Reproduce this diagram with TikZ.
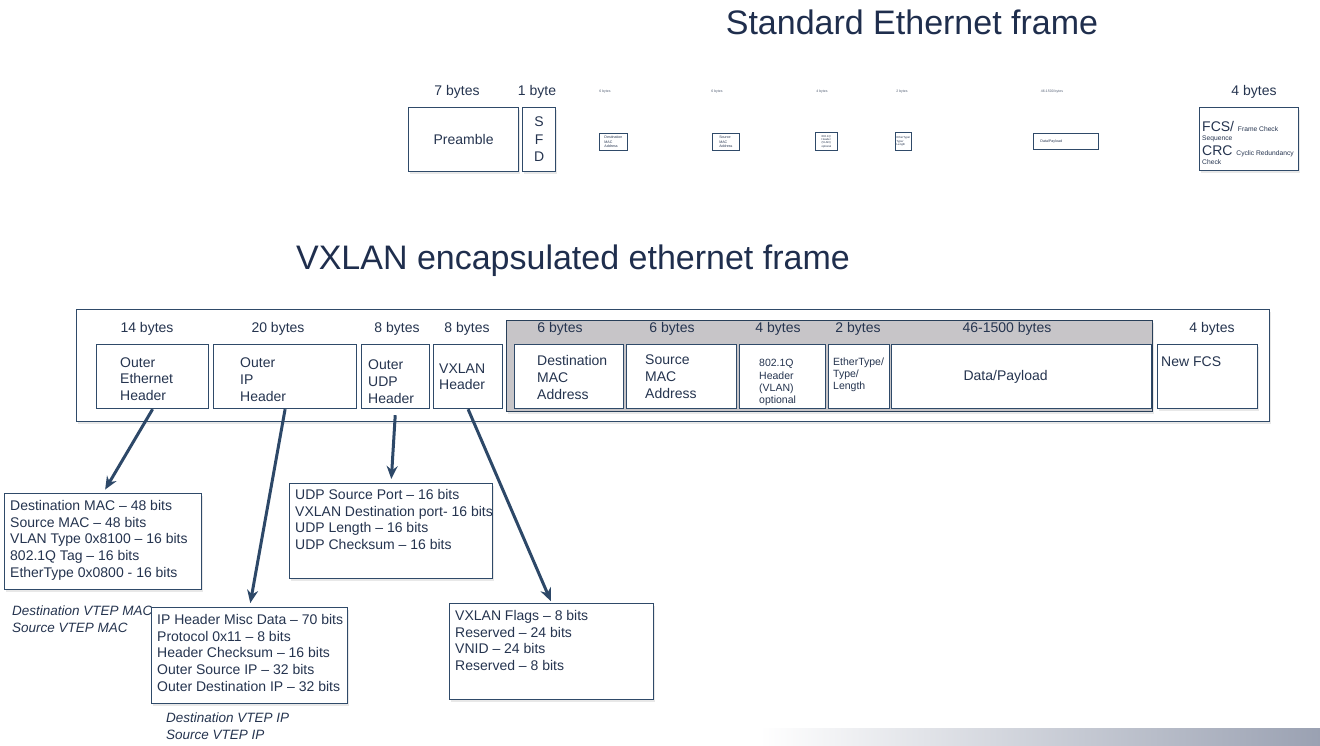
\documentclass[tikz,border=0pt]{standalone}
\usepackage{fontspec}
\setmainfont{Liberation Sans}
\usetikzlibrary{arrows.meta,positioning,shadows}
\definecolor{ink}{HTML}{25344F}
\definecolor{titlec}{HTML}{1F2E4D}
\definecolor{edge}{HTML}{2F4A69}
\definecolor{arrowc}{HTML}{2D4868}
\definecolor{grayfill}{HTML}{C7C5C8}
\definecolor{barc}{HTML}{9AA1B2}
\newcommand\fsz[2]{\fontsize{#1}{#2}\selectfont}

\begin{document}
\begin{tikzpicture}[
  x=1pt, y=-1pt,
  every node/.style={text=ink},
  hdr/.style={font=\fsz{34}{40}, text=titlec},
  lbl/.style={font=\fsz{14}{16.7}},
  fbox/.style={draw=edge, line width=1.2pt, fill=white, anchor=north west, inner sep=0pt},
  ftext/.style={font=\fsz{14}{16.7}, align=left, inner sep=0pt},
  smalltext/.style={font=\fsz{10.5}{12.3}, align=left, inner sep=0pt},
  tinybox/.style={draw=edge, line width=0.8pt, fill=white, anchor=north west, inner sep=0pt, align=left, font=\fsz{3.6}{4.2}},
  tinylbl/.style={font=\fsz{3.5}{4}, text=ink!80},
  note/.style={font=\fsz{13.5}{17}\itshape, align=left, inner sep=0pt, anchor=north west},
  link/.style={draw=arrowc, line width=3pt, -{Stealth[length=13pt,width=11pt]}, shorten >=4pt},
  shadowed/.style={drop shadow={opacity=0.18, shadow xshift=1pt, shadow yshift=-2pt}},
]
  \useasboundingbox (0,0) rectangle (1320,745);

  % Standard Ethernet frame
  \node[hdr] (stdtitle) at (912,22) {Standard Ethernet frame};

  \node[lbl] (pre-l) at (457,92) {7 bytes};
  \node[fbox, shadowed, minimum width=110, minimum height=64, font=\fsz{14}{16.7}] (pre) at (408,107) {Preamble};
  \node[lbl] (sfd-l) at (537,92) {1 byte};
  \node[fbox, shadowed, minimum width=33, minimum height=64, align=center, font=\fsz{14}{17.5}] (sfd) at (522,107) {S\\F\\D};

  % tiny fields
  \node[tinylbl] (dmac0-l) at (605,92) {6 bytes};
  \node[tinybox, minimum width=28, minimum height=17] (dmac0) at (599,133) {Destination\\MAC\\Address};
  \node[tinylbl] (smac0-l) at (717,92) {6 bytes};
  \node[tinybox, minimum width=27, minimum height=17] (smac0) at (712,133) {Source\\MAC\\Address};
  \node[tinylbl] (vlan0-l) at (822,92) {4 bytes};
  \node[tinybox, minimum width=22, minimum height=18, font=\fsz{2.8}{3.3}] (vlan0) at (815,132) {802.1Q\\Header\\(VLAN)\\optional};
  \node[tinylbl] (etype0-l) at (902,92) {2 bytes};
  \node[tinybox, minimum width=16, minimum height=18, font=\fsz{2.8}{3.3}] (etype0) at (895,132) {EtherType/\\Type/\\Length};
  \node[tinylbl] (data0-l) at (1052,92) {46-1500 bytes};
  \node[tinybox, minimum width=65, minimum height=16, text width=51pt, inner xsep=7pt] (data0) at (1033,133) {Data/Payload};

  % FCS
  \node[lbl] (fcs-l) at (1254,92) {4 bytes};
  \node[fbox, shadowed, minimum width=99, minimum height=63] (fcs) at (1199,107) {};
  \node[ftext, anchor=west, font=\fsz{14}{12}] (fcs-t) at ([xshift=3pt,yshift=-4pt]fcs.west)
    {FCS/ {\fsz{6.7}{12}Frame Check}\\[-3.5pt]{\fsz{6.7}{12}Sequence}\\[3.5pt]CRC {\fsz{6.7}{12}Cyclic Redundancy}\\[-3.5pt]{\fsz{6.7}{12}Check}};

  % VXLAN frame
  \node[hdr] (vxtitle) at (573,261) {VXLAN encapsulated ethernet frame};
  \node[fbox, shadowed, minimum width=1193, minimum height=112] (frame) at (76,309) {};
  \node[fbox, shadowed, fill=grayfill, draw=edge!85!black, minimum width=646, minimum height=91] (inner) at (506,320) {};

  % byte counts
  \node[lbl] (oeth-l) at (147,329) {14 bytes};
  \node[lbl] (oip-l) at (278,329) {20 bytes};
  \node[lbl] (oudp-l) at (397,329) {8 bytes};
  \node[lbl] (vxh-l) at (467,329) {8 bytes};
  \node[lbl] (dmac-l) at (560,329) {6 bytes};
  \node[lbl] (smac-l) at (672,329) {6 bytes};
  \node[lbl] (vlan-l) at (778,329) {4 bytes};
  \node[lbl] (etype-l) at (858,329) {2 bytes};
  \node[lbl] (data-l) at (1007,329) {46-1500 bytes};
  \node[lbl] (nfcs-l) at (1212,329) {4 bytes};

  % outer headers
  \node[fbox, minimum width=112, minimum height=64] (oeth) at (96,344) {};
  \node[ftext, anchor=west] (oeth-t) at ([xshift=24pt,yshift=-2.5pt]oeth.west) {Outer\\Ethernet\\Header};
  \node[fbox, minimum width=143, minimum height=64] (oip) at (213,344) {};
  \node[ftext, anchor=west] (oip-t) at ([xshift=27pt,yshift=-3pt]oip.west) {Outer\\IP\\Header};
  \node[fbox, minimum width=68, minimum height=64] (oudp) at (361,344) {};
  \node[ftext, anchor=west] (oudp-t) at ([xshift=7pt,yshift=-5pt]oudp.west) {Outer\\UDP\\Header};
  \node[fbox, minimum width=69, minimum height=64] (vxh) at (433,344) {};
  \node[ftext, anchor=west] (vxh-t) at ([xshift=6pt]vxh.west) {VXLAN\\Header};

  % inner frame
  \node[fbox, minimum width=109, minimum height=64] (dmac) at (514,344) {};
  \node[ftext, anchor=west] (dmac-t) at ([xshift=23pt,yshift=-1pt]dmac.west) {Destination\\MAC\\Address};
  \node[fbox, minimum width=110, minimum height=64] (smac) at (626,344) {};
  \node[ftext, anchor=west] (smac-t) at ([xshift=19pt]smac.west) {Source\\MAC\\Address};
  \node[fbox, minimum width=86, minimum height=64] (vlan) at (739,344) {};
  \node[smalltext, anchor=west] (vlan-t) at ([xshift=20pt,yshift=-6pt]vlan.west) {802.1Q\\Header\\(VLAN)\\optional};
  \node[fbox, minimum width=61, minimum height=64] (etype) at (828,344) {};
  \node[smalltext, anchor=west] (etype-t) at ([xshift=5pt,yshift=2pt]etype.west) {EtherType/\\Type/\\Length};
  \node[fbox, minimum width=260, minimum height=64] (data) at (891,344) {};
  \node[ftext] (data-t) at ([xshift=-16pt]data.center) {Data/Payload};

  \node[fbox, shadowed, minimum width=100, minimum height=64] (nfcs) at (1157,344) {};
  \node[ftext, anchor=north west] (nfcs-t) at ([xshift=4pt,yshift=-13pt]nfcs.north west) {New FCS};

  % detail boxes
  \node[fbox, shadowed, minimum width=197, minimum height=96] (ethd) at (4,493) {};
  \node[ftext, anchor=north west] (ethd-t) at ([xshift=6pt,yshift=-7pt]ethd.north west)
    {Destination MAC \textendash{} 48 bits\\Source MAC \textendash{} 48 bits\\VLAN Type 0x8100 \textendash{} 16 bits\\802.1Q Tag \textendash{} 16 bits\\EtherType 0x0800 - 16 bits};
  \node[note] (vtepmac) at (12,606) {Destination VTEP MAC\\Source VTEP MAC};

  \node[fbox, shadowed, minimum width=196, minimum height=96] (ipd) at (151,607) {};
  \node[ftext, anchor=north west] (ipd-t) at ([xshift=6pt,yshift=-7pt]ipd.north west)
    {IP Header Misc Data \textendash{} 70 bits\\Protocol 0x11 \textendash{} 8 bits\\Header Checksum \textendash{} 16 bits\\Outer Source IP \textendash{} 32 bits\\Outer Destination IP \textendash{} 32 bits};
  \node[note] (vtepip) at (166,713) {Destination VTEP IP\\Source VTEP IP};

  \node[fbox, shadowed, minimum width=203, minimum height=95] (udpd) at (289,483) {};
  \node[ftext, anchor=north west] (udpd-t) at ([xshift=6pt,yshift=-6pt]udpd.north west)
    {UDP Source Port \textendash{} 16 bits\\VXLAN Destination port- 16 bits\\UDP Length \textendash{} 16 bits\\UDP Checksum \textendash{} 16 bits};

  \node[fbox, shadowed, minimum width=204, minimum height=96] (vxd) at (449,603) {};
  \node[ftext, anchor=north west] (vxd-t) at ([xshift=6pt,yshift=-7pt]vxd.north west)
    {VXLAN Flags \textendash{} 8 bits\\Reserved \textendash{} 24 bits\\VNID \textendash{} 24 bits\\Reserved \textendash{} 8 bits};

  % arrows
  \draw[link] (oeth.south) -- (ethd.north);
  \draw[link] (oip.south) -- (ipd.north);
  \draw[link, shorten <=6pt] (oudp.south) -- (udpd.north);
  \draw[link, shorten >=2pt] (vxh.south) -- (vxd.north);

  % bottom bar
  \shade[left color=white, right color=barc] (760,728) rectangle (1320,745);
\end{tikzpicture}
\end{document}
